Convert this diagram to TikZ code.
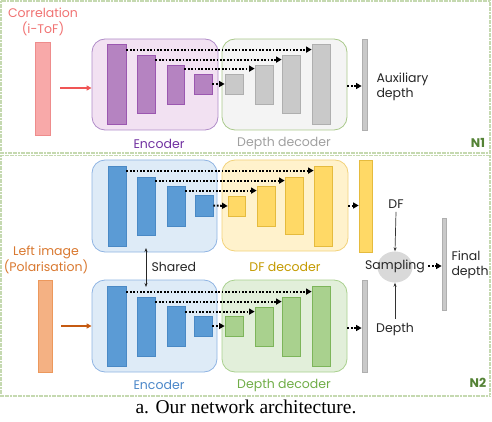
\documentclass[tikz,border=0pt]{standalone}
\usepackage{fontspec}
\setmainfont{Poppins}
\newfontfamily\capfont{Liberation Serif}
\usetikzlibrary{arrows.meta,shapes.geometric,fit}
\definecolor{pinkF}{HTML}{F8A9A9}\definecolor{pinkD}{HTML}{EE8C8C}\definecolor{pinkT}{HTML}{F07272}\definecolor{pinkA}{HTML}{F05555}
\definecolor{purBoxF}{HTML}{F2E1F2}\definecolor{purBoxD}{HTML}{B08CC8}\definecolor{purF}{HTML}{B583C1}\definecolor{purD}{HTML}{9B57B0}\definecolor{purT}{HTML}{7030A0}
\definecolor{grBoxF}{HTML}{F4F4F4}\definecolor{grnBoxD}{HTML}{A9C98A}\definecolor{grF}{HTML}{C9C9C9}\definecolor{grD}{HTML}{AFAFAF}\definecolor{grT}{HTML}{A0A0A0}
\definecolor{nT}{HTML}{548235}\definecolor{panelD}{HTML}{C5D9B0}
\definecolor{bluBoxF}{HTML}{DEEBF7}\definecolor{bluBoxD}{HTML}{8FB4E3}\definecolor{bluF}{HTML}{5B9BD5}\definecolor{bluD}{HTML}{4A89C5}\definecolor{bluT}{HTML}{4A86C8}
\definecolor{yelBoxF}{HTML}{FFF2CC}\definecolor{yelBoxD}{HTML}{F2D27A}\definecolor{yelF}{HTML}{FFD966}\definecolor{yelD}{HTML}{E5BB3E}\definecolor{yelT}{HTML}{C49A00}
\definecolor{gnBoxF}{HTML}{E2EFDA}\definecolor{gnBoxD}{HTML}{A9D08E}\definecolor{gnF}{HTML}{A9D18E}\definecolor{gnD}{HTML}{7DB55A}\definecolor{gnT}{HTML}{70AD47}
\definecolor{orT}{HTML}{D9782F}\definecolor{orF}{HTML}{F4B183}\definecolor{orD}{HTML}{EC985C}\definecolor{orA}{HTML}{C55A11}
\definecolor{txt}{HTML}{262626}
\begin{document}
\begin{tikzpicture}[x=1pt,y=-1pt,
  every node/.style={font=\fontsize{12.5}{15.5}\selectfont},
  bigbox/.style={rounded corners=13pt,line width=0.8pt,inner sep=0pt},
  barbox/.style={line width=0.8pt,inner sep=0pt},
  dotarr/.style={line width=2pt,dash pattern=on 1.8pt off 1.6pt,-{Triangle[length=5.5pt,width=6pt]}},
  thinarr/.style={line width=0.7pt,black!80,-{Stealth[length=4pt,width=3pt]}},
  panel/.style={draw=panelD,line width=1.5pt,dash pattern=on 2pt off 0.6pt}]
\useasboundingbox (0,0) rectangle (492,422);
% panels
\draw[panel] (1,1) rectangle (490,153);
\draw[panel] (1,155.5) rectangle (490,396);
\node[font=\fontsize{12.5}{14}\selectfont\bfseries,text=nT] (n1) at (478,143) {N1};
\node[font=\fontsize{12.5}{14}\selectfont\bfseries,text=nT] (n2) at (478,383) {N2};
% ---------------- N1 ----------------
\node[text=pinkT,align=center] (corr) at (43,22) {Correlation\\(i-ToF)};
\node[barbox,fill=pinkF,draw=pinkD,fit={(35,42) (50,135)}] (pinkbar) {};
\node[bigbox,fill=purBoxF,draw=purBoxD,fit={(92,39) (218,130)}] (encA) {};
\node[bigbox,fill=grBoxF,draw=grnBoxD,fit={(222,39) (347,130)}] (decA) {};
\coordinate (pa1) at (60,88);
\draw[pinkA,line width=1.5pt,-{Triangle[length=5pt,width=5pt]}] (pa1) -- (pa1 -| encA.west);
\node[barbox,fill=purF,draw=purD,fit={(107,44) (126,124)}] (a1) {};
\node[barbox,fill=purF,draw=purD,fit={(137,55) (155,113)}] (a2) {};
\node[barbox,fill=purF,draw=purD,fit={(167,65) (184,104)}] (a3) {};
\node[barbox,fill=purF,draw=purD,fit={(194,74) (212,94)}] (a4) {};
\node[barbox,fill=grF,draw=grD,fit={(225,74) (243,94)}] (ad1) {};
\node[barbox,fill=grF,draw=grD,fit={(255,65) (273,104)}] (ad2) {};
\node[barbox,fill=grF,draw=grD,fit={(282,55) (300,113)}] (ad3) {};
\node[barbox,fill=grF,draw=grD,fit={(312,44) (330,124)}] (ad4) {};
\draw[dotarr] ([yshift=-6pt]a1.north east) -- ([yshift=-6pt]a1.north east -| ad4.west);
\draw[dotarr] ([yshift=-5pt]a2.north east) -- ([yshift=-5pt]a2.north east -| ad3.west);
\draw[dotarr] ([yshift=-4pt]a3.north east) -- ([yshift=-4pt]a3.north east -| ad2.west);
\draw[dotarr] (a4.east) -- (ad1.west);
\node[barbox,fill=grF,draw=grD,fit={(362,39) (367,130)}] (aux) {};
\draw[dotarr] ([yshift=-1.5pt]decA.east) -- ([yshift=-1.5pt]decA.east -| aux.west);
\node[text=txt,align=left,anchor=west] (auxt) at (373,87) {Auxiliary\\depth};
\node[text=purT] (encAt) at (159,144) {Encoder};
\node[text=grT] (decAt) at (284,144) {Depth decoder};
% ---------------- N2 ----------------
\node[text=orT,align=center] (left) at (46,260) {Left image\\(Polarisation)};
\node[barbox,fill=orF,draw=orD,fit={(38,280) (52,372)}] (orbar) {};
\node[bigbox,fill=bluBoxF,draw=bluBoxD,fit={(92,160) (217,252)}] (encB) {};
\node[bigbox,fill=yelBoxF,draw=yelBoxD,fit={(222,160) (348,251)}] (dfB) {};
\node[bigbox,fill=bluBoxF,draw=bluBoxD,fit={(92,280) (217,372)}] (encC) {};
\node[bigbox,fill=gnBoxF,draw=gnBoxD,fit={(222,280) (347,372)}] (decC) {};
\coordinate (pb1) at (61,326);
\draw[orA,line width=1.5pt,-{Triangle[length=5pt,width=5pt]}] (pb1) -- (pb1 -| encC.west);
% top encoder / DF decoder
\node[barbox,fill=bluF,draw=bluD,fit={(108,166) (126,246)}] (b1) {};
\node[barbox,fill=bluF,draw=bluD,fit={(137,177) (155,235)}] (b2) {};
\node[barbox,fill=bluF,draw=bluD,fit={(167,186) (185,226)}] (b3) {};
\node[barbox,fill=bluF,draw=bluD,fit={(195,195) (213,216)}] (b4) {};
\node[barbox,fill=yelF,draw=yelD,fit={(228,196) (245,216)}] (y1) {};
\node[barbox,fill=yelF,draw=yelD,fit={(257,186) (275,226)}] (y2) {};
\node[barbox,fill=yelF,draw=yelD,fit={(285,177) (303,234)}] (y3) {};
\node[barbox,fill=yelF,draw=yelD,fit={(314,166) (332,246)}] (y4) {};
\draw[dotarr] ([yshift=-5pt]b1.north east) -- ([yshift=-5pt]b1.north east -| y4.west);
\draw[dotarr] ([yshift=-4pt]b2.north east) -- ([yshift=-4pt]b2.north east -| y3.west);
\draw[dotarr] ([yshift=-5pt]b3.north east) -- ([yshift=-5pt]b3.north east -| y2.west);
\draw[dotarr] (b4.east) -- (y1.west);
\node[barbox,fill=yelF,draw=yelD,fit={(359,160) (372,252)}] (dfbar) {};
\draw[dotarr] (dfB.east) -- (dfB.east -| dfbar.west);
\node[text=yelT] (dfBt) at (285,267) {DF decoder};
% bottom encoder / depth decoder
\node[barbox,fill=bluF,draw=bluD,fit={(107,286) (126,366)}] (c1) {};
\node[barbox,fill=bluF,draw=bluD,fit={(137,297) (155,356)}] (c2) {};
\node[barbox,fill=bluF,draw=bluD,fit={(167,306) (185,346)}] (c3) {};
\node[barbox,fill=bluF,draw=bluD,fit={(194,316) (212,336)}] (c4) {};
\node[barbox,fill=gnF,draw=gnD,fit={(225,316) (243,336)}] (g1) {};
\node[barbox,fill=gnF,draw=gnD,fit={(255,307) (273,346)}] (g2) {};
\node[barbox,fill=gnF,draw=gnD,fit={(282,297) (300,356)}] (g3) {};
\node[barbox,fill=gnF,draw=gnD,fit={(312,286) (330,366)}] (g4) {};
\draw[dotarr] ([yshift=-6pt]c1.north east) -- ([yshift=-6pt]c1.north east -| g4.west);
\draw[dotarr] ([yshift=-5pt]c2.north east) -- ([yshift=-5pt]c2.north east -| g3.west);
\draw[dotarr] ([yshift=-6pt]c3.north east) -- ([yshift=-6pt]c3.north east -| g2.west);
\draw[dotarr] (c4.east) -- (g1.west);
\node[barbox,fill=grF,draw=grD,fit={(362,280) (367,372)}] (depbar) {};
\draw[dotarr] ([yshift=-2pt]decC.east) -- ([yshift=-2pt]decC.east -| depbar.west);
\node[text=bluT] (encCt) at (159,385) {Encoder};
\node[text=gnT] (decCt) at (284,385) {Depth decoder};
% shared
\coordinate (sh1) at (146,248);
\coordinate (sh2) at (146,287);
\draw[line width=0.7pt,black!85,{Stealth[length=4pt,width=3pt]}-{Stealth[length=4pt,width=3pt]}] (sh1) -- (sh2);
\node[text=txt,anchor=west] (shared) at (148,267) {Shared};
% sampling
\node[ellipse,fill=black!15,minimum width=35pt,minimum height=31pt,inner sep=0pt] (samp) at (395,267) {};
\node[text=txt] (sampt) at (395,266) {Sampling};
\node[text=txt] (dft) at (396,204) {DF};
\node[text=txt] (dept) at (395,329) {Depth};
\draw[thinarr] (dft.south) -- (samp.north);
\draw[thinarr] (dept.north) -- (samp.south);
\node[barbox,fill=grF,draw=grD,fit={(442,218) (446,310)}] (finbar) {};
\draw[dotarr] (sampt.east) -- (sampt.east -| finbar.west);
\node[text=txt,align=left,anchor=west] (fint) at (448,265) {Final\\depth};
% caption
\node[font=\capfont\fontsize{19.5}{22}\selectfont] (cap) at (246,407) {a. Our network architecture.};
\end{tikzpicture}
\end{document}
